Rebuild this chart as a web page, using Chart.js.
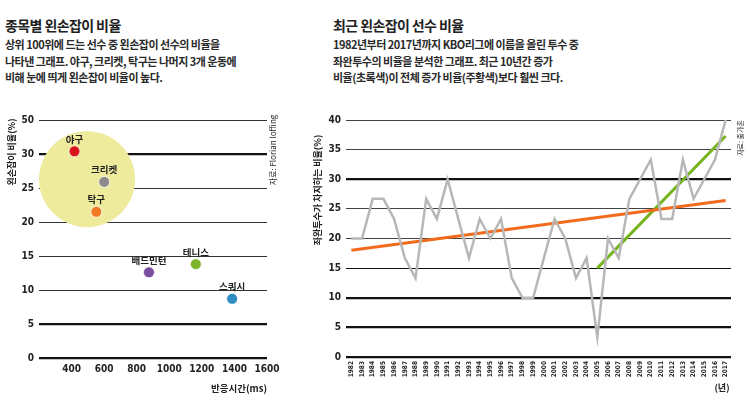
<!DOCTYPE html>
<html>
<head>
<meta charset="utf-8">
<script src="https://cdn.jsdelivr.net/npm/chart.js@4"></script>
<style>
  html,body{margin:0;padding:0;background:#fff;}
  #wrap{position:relative;width:750px;height:405px;overflow:hidden;font-family:"Noto Sans CJK KR","Noto Sans",sans-serif;color:#222;}
  canvas{position:absolute;left:0;top:0;}
  .title{position:absolute;top:15px;font-size:14px;font-weight:700;letter-spacing:-0.6px;white-space:nowrap;}
  .body{position:absolute;top:36px;font-size:11px;line-height:16.5px;font-weight:700;letter-spacing:-0.5px;white-space:nowrap;color:#2a2a2a;}
</style>
</head>
<body>
<div id="wrap">
  <div class="title" style="left:5px">종목별 왼손잡이 비율</div>
  <div class="body" style="left:5px">상위 100위에 드는 선수 중 왼손잡이 선수의 비율을<br>나타낸 그래프. 야구, 크리켓, 탁구는 나머지 3개 운동에<br>비해 눈에 띄게 왼손잡이 비율이 높다.</div>
  <div class="title" style="left:333px">최근 왼손잡이 선수 비율</div>
  <div class="body" style="left:333px">1982년부터 2017년까지 KBO리그에 이름을 올린 투수 중<br>좌완투수의 비율을 분석한 그래프. 최근 10년간 증가<br>비율(초록색)이 전체 증가 비율(주황색)보다 훨씬 크다.</div>
  <canvas id="c1" width="750" height="405"></canvas>
  <canvas id="c2" width="750" height="405"></canvas>
</div>
<script>
// ---- Left chart data ----
const sports = ['야구', '크리켓', '탁구', '배드민턴', '테니스', '스쿼시'];
const reactionMs = [418, 600, 552, 875, 1163, 1386];
const leftHandedPct = [30.4, 25.9, 21.5, 12.6, 13.8, 8.7];
const sportColors = ['#d9141b', '#8e8a8a', '#f07a22', '#7a4e9e', '#7cb42c', '#2e8ec4'];
const highlight = {x: 495, y: 26.3};
const leftYTicks = [0, 5, 10, 15, 20, 25, 30, 35];
const leftYTickLabels = ['0', '5', '10', '15', '20', '25', '30', '50'];
const leftXTicks = [400, 600, 800, 1000, 1200, 1400, 1600];

// ---- Right chart data ----
const years = ['1982','1983','1984','1985','1986','1987','1988','1989','1990','1991','1992','1993','1994','1995','1996','1997','1998','1999','2000','2001','2002','2003','2004','2005','2006','2007','2008','2009','2010','2011','2012','2013','2014','2015','2016','2017'];
const lefthandPitcherPct = [20, 20, 26.7, 26.7, 23.3, 16.7, 13.3, 26.7, 23.3, 30, 23.3, 16.7, 23.3, 20, 23.3, 13.3, 10, 10, 16.7, 23.3, 20, 13.3, 16.7, 3.3, 20, 16.7, 26.7, 30, 33.3, 23.3, 23.3, 33.3, 26.7, 30, 33.3, 40];
const overallTrend = [{x: '1982', y: 18.0}, {x: '2017', y: 26.4}];
const recentTrend = [{x: '2005', y: 15.0}, {x: '2017', y: 37.3}];
const rightYTicks = [0, 5, 10, 15, 20, 25, 30, 35, 40];

const tickFont = {family: '"DejaVu Sans Condensed","Liberation Sans Narrow","Roboto",sans-serif', size: 10, weight: 'bold'};
const krFont = '"Noto Sans CJK KR","Noto Sans",sans-serif';

function drawRotated(ctx, text, x, y, font, color) {
  ctx.save();
  ctx.translate(x, y);
  ctx.rotate(-Math.PI / 2);
  ctx.font = font;
  ctx.fillStyle = color;
  ctx.textAlign = 'center';
  ctx.textBaseline = 'middle';
  ctx.fillText(text, 0, 0);
  ctx.restore();
}

// ---- Left chart ----
const leftDecor = {
  id: 'leftDecor',
  afterDatasetsDraw(chart) {
    const ctx = chart.ctx;
    const meta = chart.getDatasetMeta(1);
    ctx.save();
    ctx.font = 'bold 9.5px ' + krFont;
    ctx.fillStyle = '#222';
    ctx.textAlign = 'center';
    ctx.textBaseline = 'middle';
    meta.data.forEach((el, i) => {
      ctx.fillText(sports[i], el.x, el.y - 12);
    });
    ctx.restore();
    drawRotated(ctx, '왼손잡이 비율(%)', 12, 152, 'bold 9px ' + krFont, '#222');
    drawRotated(ctx, '자료: Florian loffing', 273, 150, '8px ' + krFont, '#222');
    ctx.save();
    ctx.font = 'bold 9.5px ' + krFont;
    ctx.fillStyle = '#222';
    ctx.textAlign = 'right';
    ctx.textBaseline = 'middle';
    ctx.fillText('반응시간(ms)', 267, 388);
    ctx.restore();
  }
};

new Chart(document.getElementById('c1'), {
  type: 'scatter',
  data: {
    datasets: [
      {
        data: [highlight],
        order: 2,
        pointRadius: 48,
        pointHoverRadius: 48,
        backgroundColor: '#eeeb9c',
        borderWidth: 0
      },
      {
        data: reactionMs.map((x, i) => ({x: x, y: leftHandedPct[i]})),
        order: 1,
        pointRadius: 5.5,
        pointHoverRadius: 5.5,
        backgroundColor: sportColors,
        borderColor: 'rgba(255,255,255,0.8)',
        borderWidth: 1
      }
    ]
  },
  options: {
    responsive: false,
    animation: false,
    events: [],
    layout: {autoPadding: false, padding: {left: 0, top: 120, right: 483, bottom: 0}},
    plugins: {legend: {display: false}, tooltip: {enabled: false}},
    scales: {
      x: {
        type: 'linear', min: 200, max: 1600,
        afterBuildTicks: s => { s.ticks = [200].concat(leftXTicks).map(v => ({value: v})); },
        afterFit: s => { s.height = 47; },
        grid: {display: false, drawTicks: false},
        border: {display: false},
        ticks: {padding: 5, color: '#222', font: tickFont, maxRotation: 0, autoSkip: false,
          callback: v => (leftXTicks.includes(v) ? String(v) : '')}
      },
      y: {
        type: 'linear', min: 0, max: 35,
        afterBuildTicks: s => { s.ticks = leftYTicks.map(v => ({value: v})); },
        afterFit: s => { s.width = 39; },
        grid: {drawTicks: false, color: ctx => ([0, 5, 30].includes(ctx.tick.value) ? '#111' : '#333'),
          lineWidth: ctx => ([0, 5, 30].includes(ctx.tick.value) ? 2.2 : 1)},
        border: {display: false},
        ticks: {padding: 5, color: '#222', font: tickFont,
          callback: v => leftYTickLabels[leftYTicks.indexOf(v)]}
      }
    }
  },
  plugins: [leftDecor]
});

// ---- Right chart ----
const rightDecor = {
  id: 'rightDecor',
  afterDraw(chart) {
    const ctx = chart.ctx;
    drawRotated(ctx, '좌완투수가 차지하는 비율(%)', 318, 190, 'bold 9px ' + krFont, '#222');
    drawRotated(ctx, '자료: 출가혼', 740, 138, '7px ' + krFont, '#222');
    ctx.save();
    ctx.font = 'bold 9px ' + krFont;
    ctx.fillStyle = '#222';
    ctx.textAlign = 'center';
    ctx.textBaseline = 'middle';
    ctx.fillText('(년)', 722, 388);
    ctx.restore();
  }
};

new Chart(document.getElementById('c2'), {
  type: 'line',
  data: {
    labels: years,
    datasets: [
      {data: lefthandPitcherPct, borderColor: '#b7b7b7', borderWidth: 2.5, pointRadius: 0, tension: 0, fill: false},
      {data: overallTrend, borderColor: '#f26b1d', borderWidth: 3, pointRadius: 0, tension: 0, fill: false},
      {data: recentTrend, borderColor: '#76b41f', borderWidth: 3, pointRadius: 0, tension: 0, fill: false}
    ]
  },
  options: {
    responsive: false,
    animation: false,
    events: [],
    layout: {autoPadding: false, padding: {left: 310, top: 120, right: 19, bottom: 0}},
    plugins: {legend: {display: false}, tooltip: {enabled: false}},
    scales: {
      x: {
        type: 'category', offset: true,
        afterFit: s => { s.height = 48; },
        grid: {display: false, drawTicks: false},
        border: {display: false},
        ticks: {padding: 4, color: '#222', autoSkip: false, minRotation: 90, maxRotation: 90,
          font: {family: tickFont.family, size: 6.5, weight: 'bold'}}
      },
      y: {
        type: 'linear', min: 0, max: 40,
        afterBuildTicks: s => { s.ticks = rightYTicks.map(v => ({value: v})); },
        afterFit: s => { s.width = 36; },
        grid: {drawTicks: false,
          color: ctx => ([0, 5, 10, 15, 30].includes(ctx.tick.value) ? '#111' : '#444'),
          lineWidth: ctx => ([0, 5, 10, 30].includes(ctx.tick.value) ? 2.2 : 1)},
        border: {display: false},
        ticks: {padding: 5, color: '#222', font: tickFont}
      }
    }
  },
  plugins: [rightDecor]
});
</script>
</body>
</html>
